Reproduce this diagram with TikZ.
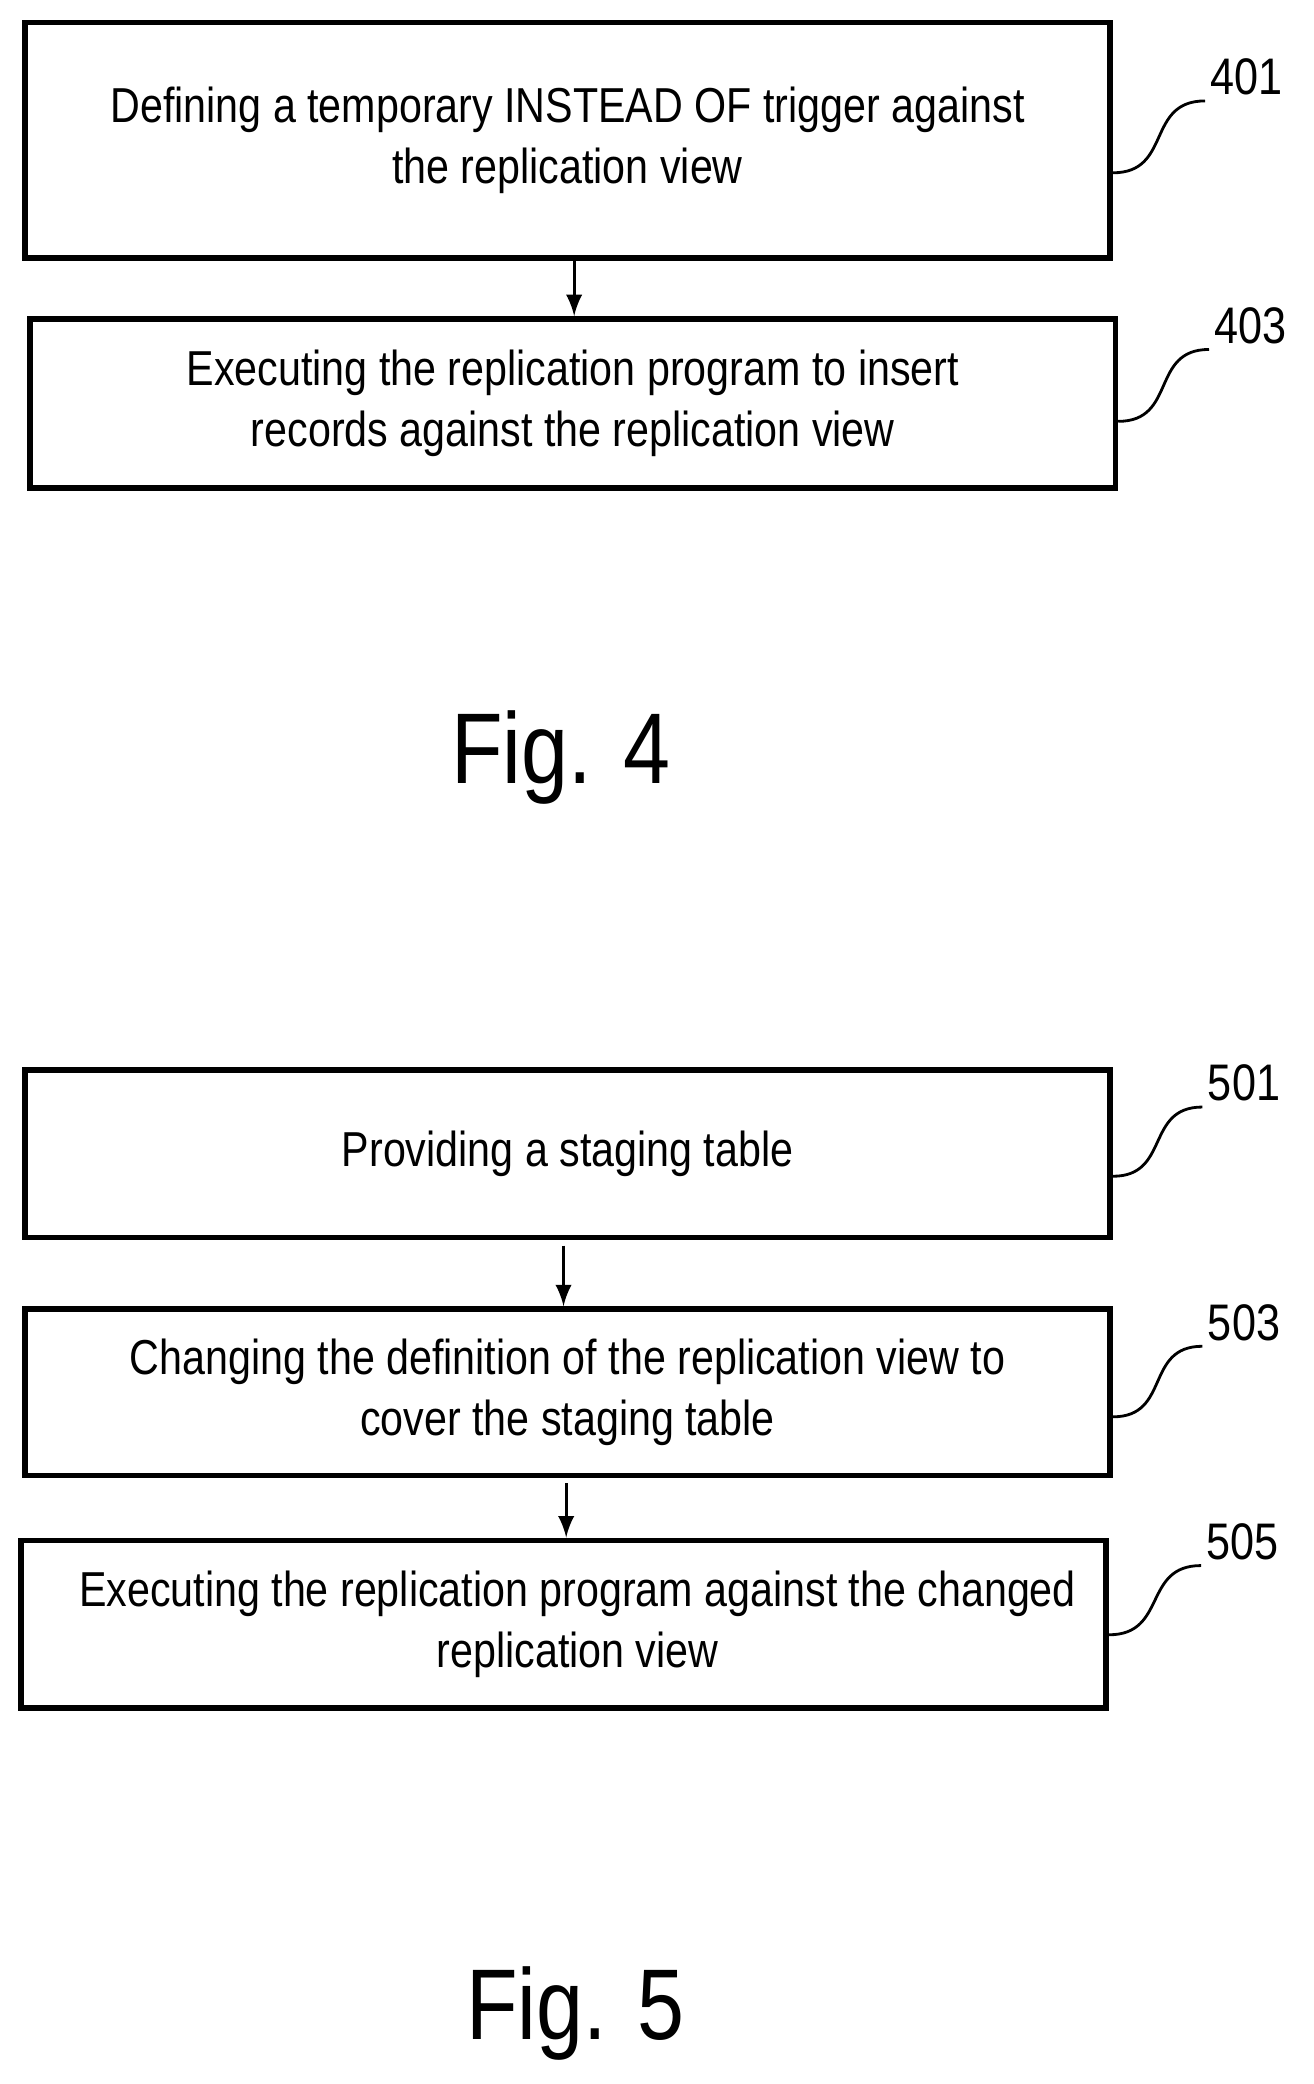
\documentclass[tikz,border=0pt]{standalone}
\usepackage{fontspec}
\setmainfont{Liberation Sans}[FakeStretch=0.84]
\usetikzlibrary{positioning}
\tikzset{
  stepbox/.style={draw, line width=1.2pt, minimum width=8.16cm, inner sep=0pt,
    align=center, font=\fontsize{10.5}{13.2}\selectfont},
  ref/.style={font=\fontsize{11}{13}\selectfont, inner sep=1pt},
  leader/.style={line width=0.6pt},
  flow/.style={-latex, line width=0.6pt},
  figlbl/.style={font=\fontsize{21.5}{24}\selectfont}
}
\begin{document}
\begin{tikzpicture}[x=0.01cm, y=-0.01cm]
  \useasboundingbox (0,0) rectangle (988,1568);

  % Fig. 4
  \node[stepbox, minimum height=1.77cm] (b401) at (427,105.5) {Defining a temporary INSTEAD OF trigger against\\the replication view};
  \node[stepbox, minimum height=1.27cm] (b403) at (431,303.5) {Executing the replication program to insert\\records against the replication view};
  \node[ref] (l401) at (938,58) {401};
  \node[ref] (l403) at (941,245) {403};
  \draw[flow] (b401.south -| 432,0) -- (b403.north -| 432,0);
  \coordinate (c401) at (b401.east |- 0,130);
  \coordinate (c403) at (b403.east |- 0,317);
  \draw[leader] (c401) to[out=0, in=180, looseness=1.3] (l401.south west);
  \draw[leader] (c403) to[out=0, in=180, looseness=1.3] (l403.south west);
  \node[figlbl] (fig4) at (422,570) {Fig. 4};

  % Fig. 5
  \node[stepbox, minimum height=1.26cm] (b501) at (427,868) {Providing a staging table};
  \node[stepbox, minimum height=1.25cm] (b503) at (427,1047.5) {Changing the definition of the replication view to\\cover the staging table};
  \node[stepbox, minimum height=1.26cm] (b505) at (424,1222) {\hspace*{6pt}Executing the replication program against the changed\\\hspace*{6pt}replication view};
  \node[ref] (l501) at (936,815) {501};
  \node[ref] (l503) at (936,995) {503};
  \node[ref] (l505) at (935,1160) {505};
  \draw[flow] (b501.south -| 424,0) ++(0,4) -- (b503.north -| 424,0);
  \draw[flow] (b503.south -| 426,0) ++(0,4) -- (b505.north -| 426,0);
  \coordinate (c501) at (b501.east |- 0,885);
  \coordinate (c503) at (b503.east |- 0,1066);
  \coordinate (c505) at (b505.east |- 0,1230);
  \draw[leader] (c501) to[out=0, in=180, looseness=1.3] (l501.south west);
  \draw[leader] (c503) to[out=0, in=180, looseness=1.3] (l503.south west);
  \draw[leader] (c505) to[out=0, in=180, looseness=1.3] (l505.south west);
  \node[figlbl] (fig5) at (433,1515) {Fig. 5};
\end{tikzpicture}
\end{document}
